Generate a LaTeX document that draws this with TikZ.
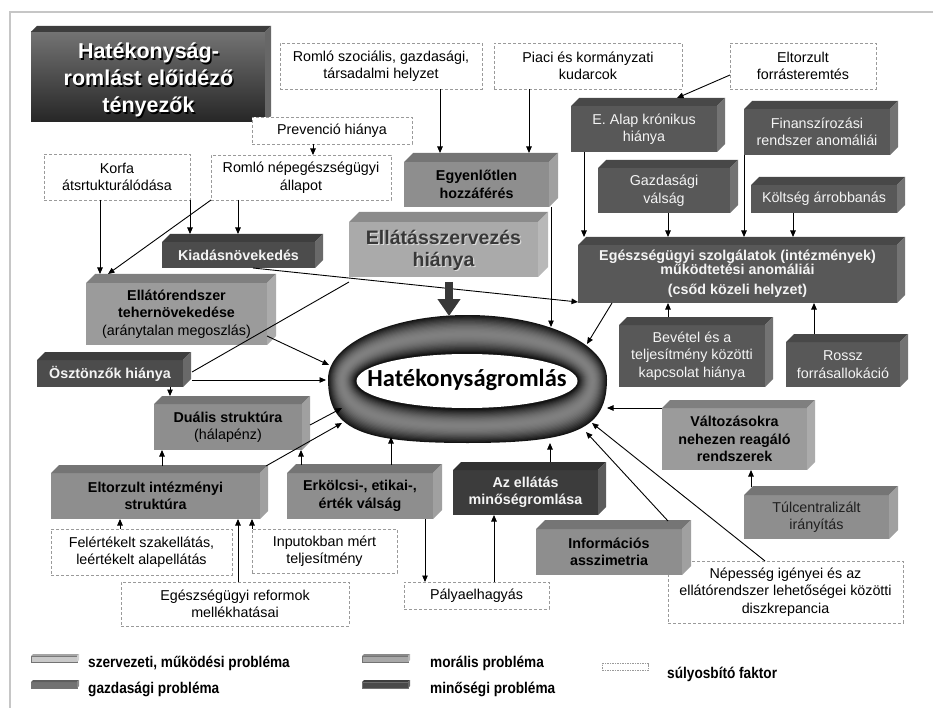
\documentclass[tikz,border=0pt]{standalone}
\usepackage{fontspec}
\setmainfont{Liberation Sans}
\newfontfamily\ringfont{Carlito}
\usetikzlibrary{arrows.meta,shapes.geometric}

\definecolor{cGz}{HTML}{585858}
\definecolor{cKi}{HTML}{4C4C4C}
\definecolor{cMi}{HTML}{3C3C3C}
\definecolor{cMo}{HTML}{8E8E8E}
\definecolor{cSz}{HTML}{9B9B9B}
\definecolor{cEl}{HTML}{AAAAAA}
\definecolor{cTi}{HTML}{4A4A4A}
\definecolor{cDash}{HTML}{9A9A9A}
\definecolor{cFrame}{HTML}{C6C6C6}
\definecolor{cWt}{HTML}{F4F4F4}
\definecolor{cLgA}{HTML}{C9C9C9}
\definecolor{cLgB}{HTML}{A8A8A8}
\definecolor{cLgC}{HTML}{727272}
\definecolor{cLgD}{HTML}{4A4A4A}

\newcommand\fsn{\fontsize{14.3}{17.5}\selectfont}
\newcommand\fsb{\fontsize{14.3}{17.5}\selectfont\bfseries}
\newcommand\cubefaces[3]{%
  \fill[#2!82!black] (#1.north west) -- ++(#3pt,#3pt) -- ([shift={(#3pt,#3pt)}]#1.north east) -- (#1.north east) -- cycle;
  \fill[#2!84!white] (#1.north east) -- ++(#3pt,#3pt) -- ([shift={(#3pt,#3pt)}]#1.south east) -- (#1.south east) -- cycle;
}

\tikzset{
  wh/.style 2 args={minimum width=#1pt, minimum height=#2pt},
  cube/.style={fill=#1, inner sep=0pt, outer sep=0pt, align=center, font=\fsn},
  dbox/.style={draw=cDash, dash pattern=on 3pt off 2pt, line width=0.9pt, fill=white, inner sep=0pt, outer sep=0pt, align=center, font=\fsn},
  arr/.style={line width=0.9pt, -{Triangle[length=6.5pt,width=5.5pt]}},
  ln/.style={line width=0.9pt},
  bigarr/.style={draw=black!78, line width=8pt, -{Triangle[length=17pt,width=22pt]}},
  lgtx/.style={anchor=west, inner sep=0pt, font=\fontsize{15.5}{18}\selectfont\bfseries},
  lgsw/.style={fill=#1, draw=black!55, line width=0.6pt, inner sep=0pt, outer sep=0pt, minimum width=46pt, minimum height=6pt},
}

\begin{document}
\begin{tikzpicture}[x=1pt,y=-1pt]
\useasboundingbox (0,0) rectangle (933,708);
\draw[cFrame, line width=2pt] (933,12) -- (10,12) -- (10,708);

% ---------- title ----------
\node[cube=cTi, top color=black!55, bottom color=black!85, wh={234}{90}] (title) at (148,77) {};
\cubefaces{title}{cTi}{6}
\node[font=\fontsize{21.5}{27}\selectfont\bfseries, text=black, align=center] (titlesh) at (150,81.5) {Hatékonyság-\\romlást előidéző\\tényezők};
\node[font=\fontsize{21.5}{27}\selectfont\bfseries, text=white, align=center] (titletx) at (148.5,80) {Hatékonyság-\\romlást előidéző\\tényezők};

% ---------- dashed factor boxes ----------
\node[dbox, wh={202}{46}] (drsz) at (381,66) {Romló szociális, gazdasági,\\társadalmi helyzet};
\node[dbox, wh={188}{46}] (dpiac) at (588,66) {Piaci és kormányzati\\kudarcok};
\node[dbox, wh={146}{46}] (deltf) at (803,66) {Eltorzult\\forrásteremtés};
\node[dbox, wh={160}{27}] (dprev) at (332,130.5) {Prevenció hiánya};
\node[dbox, wh={146}{46}] (dkorfa) at (117,177) {Korfa\\átsrtukturálódása};
\node[dbox, wh={180}{45}] (dromlo) at (301,177.5) {Romló népegészségügyi\\állapot};
\node[dbox, wh={181}{46}] (dfel) at (141.5,552) {Felértékelt szakellátás,\\leértékelt alapellátás};
\node[dbox, wh={145}{44}] (dinp) at (324.5,551) {Inputokban mért\\teljesítmény};
\node[dbox, wh={228}{44}] (dref) at (235,604) {Egészségügyi reformok\\mellékhatásai};
\node[dbox, wh={145}{27}] (dpaly) at (476.5,595.5) {Pályaelhagyás};
\node[dbox, wh={235}{62}] (dnep) at (785.5,592) {Népesség igényei és az\\ellátórendszer lehetőségei közötti\\diszkrepancia};

% ---------- 3D boxes ----------
\node[cube=cMo, font=\fsb, wh={145}{45}] (egy) at (476.5,184.5) {Egyenlőtlen\\hozzáférés};
\cubefaces{egy}{cMo}{9}

\node[cube=cEl, wh={189}{55}] (ell) at (443.5,249.5) {};
\cubefaces{ell}{cEl}{10}
\node[font=\fontsize{19.5}{22}\selectfont\bfseries, text=white!85!black, align=center] (ellsh) at (444.7,251.2) {Ellátásszervezés\\hiánya};
\node[font=\fontsize{19.5}{22}\selectfont\bfseries, text=black!78, align=center] (elltx) at (443.5,250) {Ellátásszervezés\\hiánya};

\node[cube=cKi, font=\fsb, text=cWt, wh={153}{26}] (kiad) at (238.5,255) {Kiadásnövekedés};
\cubefaces{kiad}{cKi}{8}

\node[cube=cSz, wh={181}{62}] (teher) at (176.5,314) {\textbf{Ellátórendszer}\\\textbf{tehernövekedése}\\(aránytalan megoszlás)};
\cubefaces{teher}{cSz}{9}

\node[cube=cKi, font=\fsb, text=cWt, wh={146}{27}] (oszt) at (110,373.5) {Ösztönzők hiánya};
\cubefaces{oszt}{cKi}{8}

\node[cube=cMo, wh={148}{46}] (dual) at (228,427) {\textbf{Duális struktúra}\\(hálapénz)};
\cubefaces{dual}{cMo}{8}

\node[cube=cMo, font=\fsb, wh={209}{46}] (eltint) at (155.5,496) {Eltorzult intézményi\\struktúra};
\cubefaces{eltint}{cMo}{8}

\node[cube=cMo, font=\fsb, wh={146}{46}] (erk) at (360,496) {Erkölcsi-, etikai-,\\érték válság};
\cubefaces{erk}{cMo}{9}

\node[cube=cMi, font=\fsb, text=cWt, wh={145}{45}] (minos) at (525.5,492.5) {Az ellátás\\minőségromlása};
\cubefaces{minos}{cMi}{8}

\node[cube=cMo, font=\fsb, wh={146}{46}] (info) at (609,552) {Információs\\asszimetria};
\cubefaces{info}{cMo}{9}

\node[cube=cSz, font=\fsb, wh={145}{62}] (valt) at (734.5,439) {Változásokra\\nehezen reagáló\\rendszerek};
\cubefaces{valt}{cSz}{8}

\node[cube=cMo, text=black!88, wh={145}{44}] (tulc) at (816.5,517) {Túlcentralizált\\irányítás};
\cubefaces{tulc}{cMo}{9}

\node[cube=cGz, text=cWt, wh={146}{46}] (ealap) at (644,129) {E. Alap krónikus\\hiánya};
\cubefaces{ealap}{cGz}{8}

\node[cube=cGz, text=cWt, wh={146}{46}] (finan) at (817,132) {Finanszírozási\\rendszer anomáliái};
\cubefaces{finan}{cGz}{8}

\node[cube=cGz, text=cWt, wh={132}{45}] (gazd) at (664,190.5) {Gazdasági\\válság};
\cubefaces{gazd}{cGz}{8}

\node[cube=cGz, text=cWt, wh={146}{28}] (kolt) at (824,199) {Költség árrobbanás};
\cubefaces{kolt}{cGz}{8}

\node[cube=cGz, font=\fsb, text=cWt, wh={319}{58}] (eu) at (737.5,274) {Egészségügyi szolgálatok (intézmények)\\[-4pt]működtetési anomáliái\\[3pt](csőd közeli helyzet)};
\cubefaces{eu}{cGz}{8}

\node[cube=cGz, text=cWt, wh={146}{62}] (bev) at (692,356) {Bevétel és a\\teljesítmény közötti\\kapcsolat hiánya};
\cubefaces{bev}{cGz}{8}

\node[cube=cGz, text=cWt, wh={114}{45}] (rossz) at (843,364.5) {Rossz\\forrásallokáció};
\cubefaces{rossz}{cGz}{8}

% ---------- ring ----------
\foreach \i in {0,...,30}{
  \pgfmathsetmacro\rgS{\i/30}
  \pgfmathsetmacro\rgX{467.5-0.5*\rgS}
  \pgfmathsetmacro\rgY{379+2*\rgS}
  \pgfmathsetmacro\rgA{139.5-27.5*\rgS}
  \pgfmathsetmacro\rgT{64-35*\rgS}
  \pgfmathsetmacro\rgB{64-35*\rgS}
  \pgfmathsetmacro\rgK{0.78-0.2*\rgS}
  \pgfmathsetmacro\rgG{92-42*sin(180*\rgS)}
  \fill[black!\rgG] (\rgX-\rgA,\rgY)
     .. controls (\rgX-\rgA,\rgY-0.552*\rgT) and (\rgX-0.552*\rgA,\rgY-\rgT) .. (\rgX,\rgY-\rgT)
     .. controls (\rgX+0.552*\rgA,\rgY-\rgT) and (\rgX+\rgA,\rgY-0.552*\rgT) .. (\rgX+\rgA,\rgY)
     .. controls (\rgX+\rgA,\rgY+\rgK*\rgB) and (\rgX+\rgK*\rgA,\rgY+\rgB) .. (\rgX,\rgY+\rgB)
     .. controls (\rgX-\rgK*\rgA,\rgY+\rgB) and (\rgX-\rgA,\rgY+\rgK*\rgB) .. (\rgX-\rgA,\rgY) -- cycle;
}
\fill[white] (356.5,381) .. controls (356.5,366) and (405,354) .. (467,354)
   .. controls (529,354) and (577.5,366) .. (577.5,381)
   .. controls (577.5,396) and (529,408) .. (467,408)
   .. controls (405,408) and (356.5,396) .. (356.5,381) -- cycle;
\node[ellipse, inner sep=0pt, minimum width=279pt, minimum height=128pt] (ring) at (467.5,379) {};
\node[font=\ringfont\bfseries\fontsize{24.5}{28}\selectfont] (ringtx) at (467,380) {Hatékonyságromlás};

\coordinate (rEgy) at (551,327);
\coordinate (rEll) at (449,316);
\coordinate (rEu) at (587,344);
\coordinate (rTeh) at (329,365);
\coordinate (rOsz) at (326,380);
\coordinate (rDua) at (342,408);
\coordinate (rElt) at (342,423);
\coordinate (rErk) at (391,437);
\coordinate (rMin) at (550,443);
\coordinate (rInf) at (586,432);
\coordinate (rNep) at (592,423);
\coordinate (rVal) at (607,408);

% ---------- connectors ----------
\draw[arr] ([xshift=59pt]drsz.south) -- ([xshift=-36.5pt,yshift=9pt]egy.north);
\draw[arr] ([xshift=-59pt]dpiac.south) -- ([xshift=52.5pt,yshift=9pt]egy.north);
\draw[arr] ([yshift=-9pt]deltf.west) -- ([xshift=33pt,yshift=8pt]ealap.north);
\draw[arr] ([xshift=-19pt]dprev.south) -- ([xshift=12pt]dromlo.north);
\draw[arr] ([xshift=-17pt]dkorfa.south) -- ([xshift=-76.5pt,yshift=9pt]teher.north);
\draw[arr] (dromlo.south west) -- ([xshift=-68.5pt,yshift=9pt]teher.north);
\draw[arr] (dkorfa.south east) -- ([xshift=-48.5pt,yshift=8pt]kiad.north);
\draw[arr] ([xshift=-63pt]dromlo.south) -- ([xshift=-0.5pt,yshift=8pt]kiad.north);
\draw[arr] ([xshift=14.5pt]kiad.south) -- ([yshift=1pt]eu.south west);
\draw[ln] ([yshift=-5pt]ell.south west) -- ([xshift=9pt,yshift=1.5pt]oszt.east);
\draw[arr] ([yshift=-22pt]teher.east) -- (rTeh);
\draw[arr] ([xshift=9pt,yshift=-6.5pt]oszt.east) -- (rOsz);
\draw[arr] ([xshift=60pt]oszt.south) -- ([xshift=-58pt,yshift=8pt]dual.north);
\draw[arr] ([xshift=8pt,yshift=2pt]dual.east) -- (rDua);
\draw[arr] ([xshift=6pt,yshift=7pt]eltint.north east) -- (rElt);
\draw[arr] ([xshift=6.5pt,yshift=7pt]eltint.north) -- ([xshift=-66pt]dual.south);
\draw[arr] ([xshift=-59pt,yshift=8pt]erk.north) -- ([xshift=73pt]dual.south);
\draw[arr] ([xshift=31pt,yshift=8pt]erk.north) -- (rErk);
\draw[arr] ([xshift=65pt]erk.south) -- ([xshift=-51.5pt]dpaly.north);
\draw[arr] ([xshift=17.5pt]dpaly.north) -- ([xshift=-31.5pt]minos.south);
\draw[arr] ([xshift=24.5pt,yshift=8pt]minos.north) -- (rMin);
\draw[arr] ([xshift=-21.5pt]dfel.north) -- ([xshift=-35.5pt]eltint.south);
\draw[arr] ([xshift=3pt]dref.north) -- ([xshift=82.5pt]eltint.south);
\draw[arr] (dinp.north west) -- ([xshift=-8pt]eltint.south east);
\draw[arr] ([xshift=-14pt,yshift=8pt]info.north east) -- (rInf);
\draw[arr] ([xshift=-20.5pt]dnep.north) -- (rNep);
\draw[arr] (valt.north west) -- (rVal);
\draw[arr] ([xshift=-65.5pt,yshift=8pt]tulc.north) -- ([xshift=16.5pt]valt.south);
\draw[arr] ([xshift=2pt]egy.south east) -- (rEgy);
\draw[arr] ([xshift=34pt]eu.south west) -- (rEu);
\draw[arr] ([xshift=13pt]ealap.south west) -- ([xshift=-153.5pt,yshift=8pt]eu.north);
\draw[arr] ([xshift=4pt]gazd.south) -- ([xshift=-69.5pt,yshift=8pt]eu.north);
\draw[arr] (finan.south west) -- ([xshift=6.5pt,yshift=8pt]eu.north);
\draw[arr] ([xshift=-31pt]kolt.south) -- ([xshift=55.5pt,yshift=8pt]eu.north);
\draw[arr] ([xshift=-24pt,yshift=8pt]bev.north) -- ([xshift=-69.5pt]eu.south);
\draw[arr] ([xshift=-29pt,yshift=8pt]rossz.north) -- ([xshift=76.5pt]eu.south);
\draw[bigarr] ([xshift=5.5pt,yshift=-5pt]ell.south) -- (rEll);

% ---------- legend ----------
\node[lgsw=cLgA] (lgA) at (54,659) {};
\cubefaces{lgA}{cLgA}{2}
\node[lgtx] (lgAt) at (88,663) {\scalebox{0.88}[1]{szervezeti, működési probléma}};
\node[lgsw=cLgB] (lgB) at (385,659) {};
\cubefaces{lgB}{cLgB}{2}
\node[lgtx] (lgBt) at (430,663) {\scalebox{0.88}[1]{morális probléma}};
\node[lgsw=cLgC] (lgC) at (54,685) {};
\cubefaces{lgC}{cLgC}{2}
\node[lgtx] (lgCt) at (88,689) {\scalebox{0.88}[1]{gazdasági probléma}};
\node[lgsw=cLgD] (lgD) at (385,685) {};
\cubefaces{lgD}{cLgD}{2}
\node[lgtx] (lgDt) at (430,689) {\scalebox{0.88}[1]{minőségi probléma}};
\node[dbox, line width=0.6pt, dash pattern=on 1.5pt off 1pt, wh={46}{7}] (lgE) at (625,667) {};
\node[lgtx] (lgEt) at (667,674) {\scalebox{0.88}[1]{súlyosbító faktor}};
\end{tikzpicture}
\end{document}
